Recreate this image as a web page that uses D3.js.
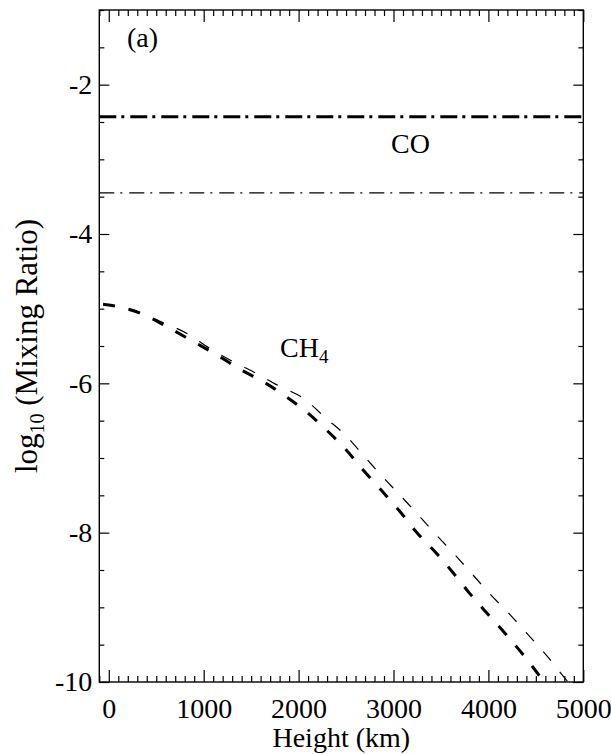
<!DOCTYPE html>
<html><head><meta charset="utf-8">
<script src="https://cdn.jsdelivr.net/npm/d3@7"></script>
<style>body{margin:0;background:#fff}svg{display:block}</style>
</head><body><svg id="c" width="611" height="754"></svg>
<script>
// ---- data ----
const xMajorTicks = [0, 1000, 2000, 3000, 4000, 5000];
const yMajorTicks = [-10, -8, -6, -4, -2];
const xDomain = [-100, 5000];
const yDomain = [-10, -1];

// CO mixing ratio (constant with height)
const coHeights = [-100, 5000];
const coThick = [-2.43, -2.43];
const coThin = [-3.45, -3.45];

// CH4 mixing ratio
const ch4ThickHeights = [-60, 0, 330, 610, 890, 1140, 1380, 1630, 1870, 2080, 2290, 2500, 2680, 2870, 3070, 3240, 3440, 3630, 3800, 4000, 4190, 4370, 4590, 4700];
const ch4Thick =        [-4.94, -4.95, -5.06, -5.24, -5.44, -5.62, -5.81, -5.98, -6.18, -6.38, -6.62, -6.89, -7.16, -7.43, -7.72, -7.99, -8.26, -8.54, -8.81, -9.10, -9.37, -9.64, -10.0, -10.17];
const ch4ThinHeights = [-60, 260, 540, 820, 1060, 1310, 1560, 1800, 2050, 2290, 2490, 2680, 2870, 3070, 3260, 3450, 3650, 3840, 4030, 4230, 4420, 4610, 4840, 4950];
const ch4Thin =        [-4.94, -5.02, -5.17, -5.33, -5.53, -5.71, -5.87, -6.04, -6.20, -6.47, -6.69, -6.96, -7.23, -7.50, -7.76, -8.03, -8.30, -8.57, -8.84, -9.10, -9.37, -9.64, -10.0, -10.15];

// ---- layout ----
const L = 99.3, R = 583.3, T = 10, B = 682;
const FONT = "'Liberation Serif','Times New Roman',serif";
const FS = 28;

const svg = d3.select("#c");
const x = d3.scaleLinear().domain(xDomain).range([L, R]);
const y = d3.scaleLinear().domain(yDomain).range([B, T]);

const xMinor = d3.range(-100, 5001, 100).filter(v => !xMajorTicks.includes(v));
const yMinor = d3.range(-10, -0.99, 0.5).map(v => +v.toFixed(1)).filter(v => !yMajorTicks.includes(v));

function styleAxis(g) {
  g.select(".domain").remove();
  g.selectAll(".tick line").attr("stroke", "#000").attr("stroke-width", 1.2);
  g.selectAll("text").attr("font-family", FONT).attr("font-size", FS).attr("fill", "#000");
}

// bottom
svg.append("g").attr("transform", `translate(0,${B})`)
  .call(d3.axisBottom(x).tickValues(xMajorTicks).tickSize(-12).tickPadding(16).tickFormat(d3.format("d")))
  .call(styleAxis);
svg.append("g").attr("transform", `translate(0,${B})`)
  .call(d3.axisBottom(x).tickValues(xMinor).tickSize(-6).tickFormat(""))
  .call(styleAxis);
// top
svg.append("g").attr("transform", `translate(0,${T})`)
  .call(d3.axisTop(x).tickValues(xMajorTicks).tickSize(-12).tickFormat(""))
  .call(styleAxis);
svg.append("g").attr("transform", `translate(0,${T})`)
  .call(d3.axisTop(x).tickValues(xMinor).tickSize(-6).tickFormat(""))
  .call(styleAxis);
// left
svg.append("g").attr("transform", `translate(${L},0)`)
  .call(d3.axisLeft(y).tickValues(yMajorTicks).tickSize(-10).tickPadding(7).tickFormat(d3.format("d")))
  .call(styleAxis)
  .call(g => g.selectAll("text").text(d => String(d).replace("\u2212", "-")));
svg.append("g").attr("transform", `translate(${L},0)`)
  .call(d3.axisLeft(y).tickValues(yMinor).tickSize(-5).tickFormat(""))
  .call(styleAxis);
// right
svg.append("g").attr("transform", `translate(${R},0)`)
  .call(d3.axisRight(y).tickValues(yMajorTicks).tickSize(-10).tickFormat(""))
  .call(styleAxis);
svg.append("g").attr("transform", `translate(${R},0)`)
  .call(d3.axisRight(y).tickValues(yMinor).tickSize(-5).tickFormat(""))
  .call(styleAxis);

// frame
svg.append("rect").attr("x", L).attr("y", T).attr("width", R - L).attr("height", B - T)
  .attr("fill", "none").attr("stroke", "#000").attr("stroke-width", 1.4);

// clip
svg.append("clipPath").attr("id", "clip").append("rect")
  .attr("x", L).attr("y", T).attr("width", R - L).attr("height", B - T);
const plot = svg.append("g").attr("clip-path", "url(#clip)");

const line = d3.line().x(d => x(d[0])).y(d => y(d[1])).curve(d3.curveMonotoneX);
const zip = (a, b) => a.map((v, i) => [v, b[i]]);

plot.append("path").datum(zip(coHeights, coThick)).attr("d", line)
  .attr("fill", "none").attr("stroke", "#000").attr("stroke-width", 3).attr("stroke-dasharray", "17,5,3,6");
plot.append("path").datum(zip(coHeights, coThin)).attr("d", line)
  .attr("fill", "none").attr("stroke", "#000").attr("stroke-width", 1.2).attr("stroke-dasharray", "15,6,2,7");
plot.append("path").datum(zip(ch4ThickHeights, ch4Thick)).attr("d", line)
  .attr("fill", "none").attr("stroke", "#000").attr("stroke-width", 3).attr("stroke-dasharray", "12,14");
plot.append("path").datum(zip(ch4ThinHeights, ch4Thin)).attr("d", line)
  .attr("fill", "none").attr("stroke", "#000").attr("stroke-width", 1.2).attr("stroke-dasharray", "12,14");

// labels
const txt = (px, py, s) => svg.append("text").attr("x", px).attr("y", py)
  .attr("font-family", FONT).attr("font-size", FS).attr("fill", "#000").text(s);

txt(127, 47, "(a)");
txt(x(2975), 152.5, "CO");
const ch4 = txt(x(1805), 356.5, "CH");
ch4.append("tspan").attr("font-size", 19).attr("dy", 6).text("4");

// axis titles
svg.append("text").attr("x", (L + R) / 2).attr("y", 747).attr("text-anchor", "middle")
  .attr("font-family", FONT).attr("font-size", FS).text("Height (km)");
const yt = svg.append("text").attr("transform", `translate(37,${(T + B) / 2}) rotate(-90)`)
  .attr("text-anchor", "middle").attr("font-family", FONT).attr("font-size", 31);
yt.append("tspan").text("log");
yt.append("tspan").attr("font-size", 20).attr("dy", 7).text("10");
yt.append("tspan").attr("dy", -7).text(" (Mixing Ratio)");
</script></body></html>
